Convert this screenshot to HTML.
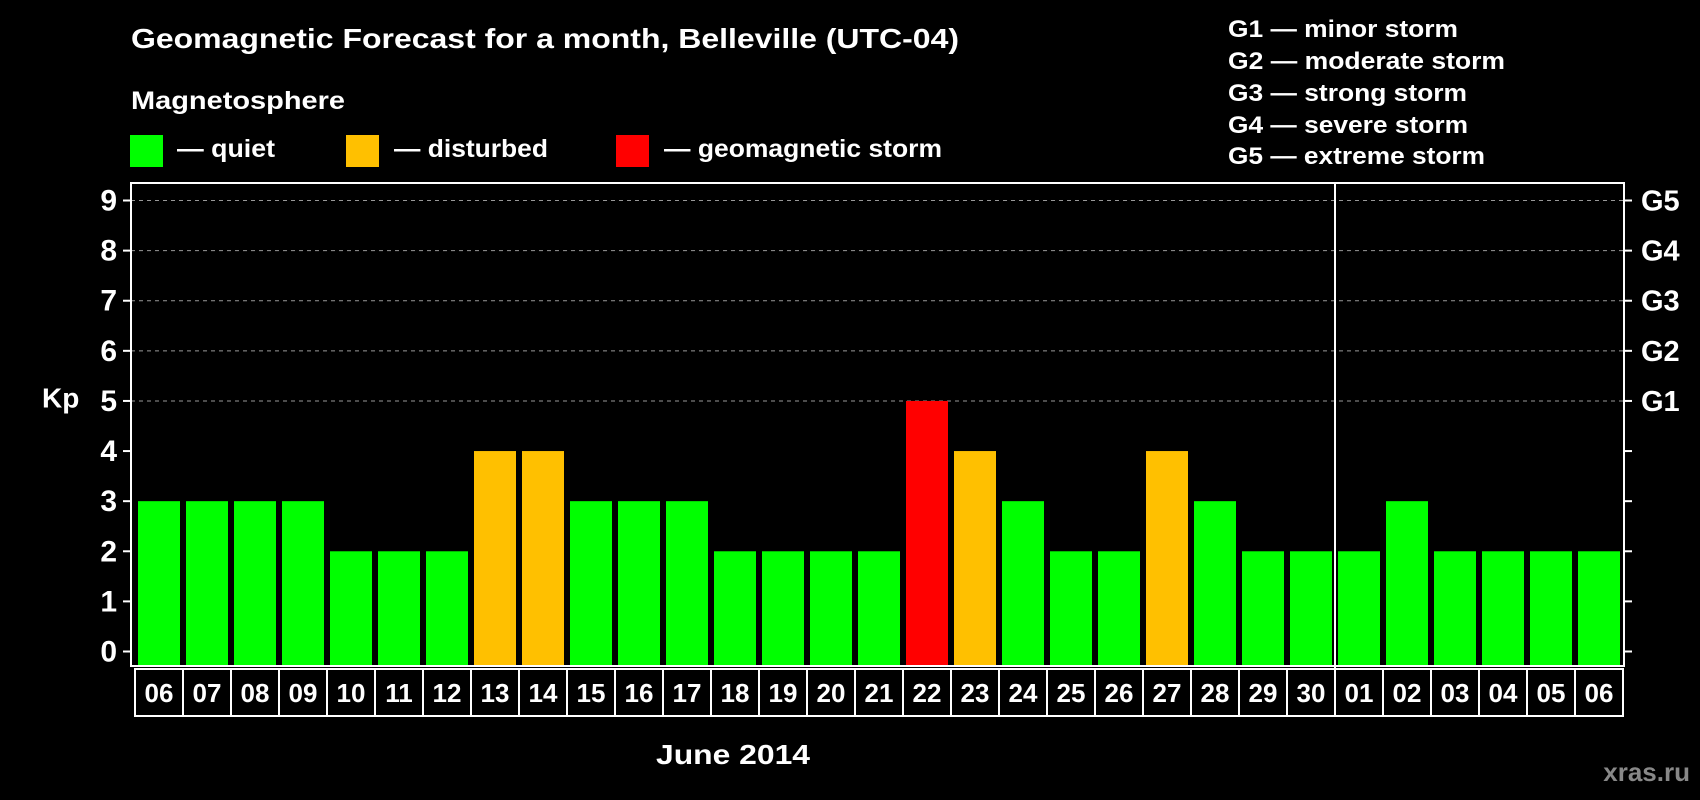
<!DOCTYPE html>
<html><head><meta charset="utf-8"><style>
html,body{margin:0;padding:0;background:#000;}
svg{display:block;font-family:"Liberation Sans",Arial,sans-serif;font-weight:bold;}
</style></head><body>
<svg id="chart" width="1700" height="800" viewBox="0 0 1700 800">
<rect width="1700" height="800" fill="#000"/>
<text x="131" y="48" fill="#fff" font-size="28" textLength="828" lengthAdjust="spacingAndGlyphs">Geomagnetic Forecast for a month, Belleville (UTC-04)</text>
<text x="131" y="109" fill="#fff" font-size="25" textLength="214" lengthAdjust="spacingAndGlyphs">Magnetosphere</text>
<g><rect x="130" y="135" width="33" height="32" fill="#00ff00"/><text x="177" y="157" fill="#fff" font-size="25" textLength="98" lengthAdjust="spacingAndGlyphs">— quiet</text></g>
<g><rect x="346" y="135" width="33" height="32" fill="#ffc000"/><text x="394" y="157" fill="#fff" font-size="25" textLength="154" lengthAdjust="spacingAndGlyphs">— disturbed</text></g>
<g><rect x="616" y="135" width="33" height="32" fill="#ff0000"/><text x="664" y="157" fill="#fff" font-size="25" textLength="278" lengthAdjust="spacingAndGlyphs">— geomagnetic storm</text></g>
<g fill="#fff" font-size="24">
<text x="1228" y="37" textLength="230" lengthAdjust="spacingAndGlyphs">G1 — minor storm</text>
<text x="1228" y="69" textLength="277" lengthAdjust="spacingAndGlyphs">G2 — moderate storm</text>
<text x="1228" y="101" textLength="239" lengthAdjust="spacingAndGlyphs">G3 — strong storm</text>
<text x="1228" y="133" textLength="240" lengthAdjust="spacingAndGlyphs">G4 — severe storm</text>
<text x="1228" y="164" textLength="257" lengthAdjust="spacingAndGlyphs">G5 — extreme storm</text>
</g>
<text x="42" y="400" fill="#fff" font-size="28" dominant-baseline="middle">Kp</text>
<text x="733" y="764" fill="#fff" font-size="28" text-anchor="middle" textLength="154" lengthAdjust="spacingAndGlyphs">June 2014</text>
<text x="1690" y="781" fill="#888" font-size="26" text-anchor="end">xras.ru</text>
<g id="grid"></g><g id="bars"></g><g id="axes"></g>
</svg>
<script>
const days = ["06","07","08","09","10","11","12","13","14","15","16","17","18","19","20","21","22","23","24","25","26","27","28","29","30","01","02","03","04","05","06"];
const kp = [3,3,3,3,2,2,2,4,4,3,3,3,2,2,2,2,5,4,3,2,2,4,3,2,2,2,3,2,2,2,2];
const yTicks = [0,1,2,3,4,5,6,7,8,9];
const gLabels = ["G1","G2","G3","G4","G5"];
const gLevels = [5,6,7,8,9];
const monthBreakIndex = 25;

const NS="http://www.w3.org/2000/svg";
const plotL=131, plotR=1624, plotT=183, plotB=666;
const x0=135, step=48, barW=42;
const y0px=651.5, y9px=200.5;
function xs(i){return x0+i*step;}
function ys(v){return y0px-v*(y0px-y9px)/9;}
function mk(tag,attrs,parent){const e=document.createElementNS(NS,tag);for(const k in attrs)e.setAttribute(k,attrs[k]);parent.appendChild(e);return e;}
const grid=document.getElementById('grid'),bars=document.getElementById('bars'),axes=document.getElementById('axes');

yTicks.forEach(v=>{
  if(v>=5){const l=mk('line',{x1:plotL,x2:plotR,y1:ys(v),y2:ys(v),stroke:'#999','stroke-dasharray':'4,4','stroke-width':1},grid);
    
    }
  const t=mk('line',{x1:plotL-8,x2:plotL,y1:ys(v),y2:ys(v),stroke:'#fff','stroke-width':2},axes);
  
  
  const t2=mk('line',{x1:plotR,x2:plotR+8,y1:ys(v),y2:ys(v),stroke:'#fff','stroke-width':2},axes);
  
  
  const tx=mk('text',{x:plotL-14,y:ys(v)+10,fill:'#fff','font-size':30,'text-anchor':'end'},axes);
  tx.textContent=v;
  
  
});
gLabels.forEach((g,i)=>{
  const tx=mk('text',{x:plotR+17,y:ys(gLevels[i])+10,fill:'#fff','font-size':29},axes);
  tx.textContent=g;
  
  
});
kp.forEach((v,i)=>{
  const c=v>=5?'#ff0000':(v>=4?'#ffc000':'#00ff00');
  const r=mk('rect',{x:xs(i)+3,y:ys(v),width:barW,height:plotB-1-ys(v),fill:c},bars);
  
  
  const cell=mk('rect',{x:xs(i),y:669,width:step,height:47,fill:'none',stroke:'#fff','stroke-width':2},axes);
  
  
  const tx=mk('text',{x:xs(i)+step/2,y:702,fill:'#fff','font-size':26,'text-anchor':'middle'},axes);
  tx.textContent=days[i];
  
  
});
const frame=mk('rect',{x:plotL,y:plotT,width:plotR-plotL,height:plotB-plotT,fill:'none',stroke:'#fff','stroke-width':2},axes);


const sep=mk('line',{x1:xs(monthBreakIndex),x2:xs(monthBreakIndex),y1:plotT,y2:716,stroke:'#fff','stroke-width':2},axes);


</script>
</body></html>
